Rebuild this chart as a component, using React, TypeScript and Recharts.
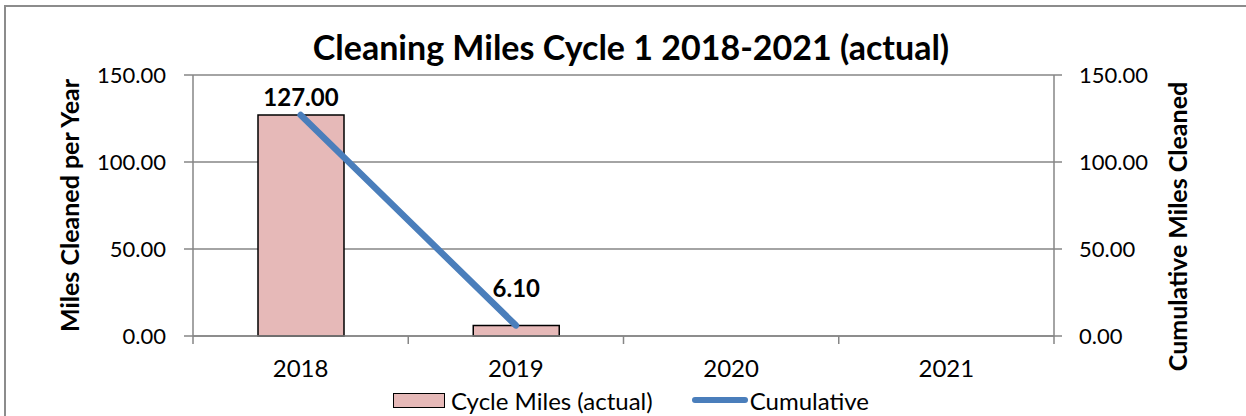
import React from "react";
import {
  ComposedChart,
  Bar,
  Line,
  XAxis,
  YAxis,
  CartesianGrid,
  LabelList,
} from "recharts";

const years = ["2018", "2019", "2020", "2021"];
const cycleMiles = [127, 6.1, null, null];
const cumulativeMiles = [127, 6.1, null, null];
const yTicks = [0, 50, 100, 150];

const data = years.map((year, i) => ({
  year,
  cycle: cycleMiles[i],
  cumulative: cumulativeMiles[i],
}));

const FONT = "Lato, 'Open Sans', sans-serif";
const AXIS_GRAY = "#868686";
const BAR_FILL = "#E6B9B8";
const LINE_BLUE = "#4A7EBB";

const X_TICK_SIZE = 8;
const X_TICK_MARGIN = 16;

function formatMiles(value: number): string {
  return Number(value).toFixed(2);
}

// Excel-style category ticks: marks sit between categories, not under them
function YearTick(props: any) {
  const { x, y, payload, index, visibleTicksCount } = props;
  const half = payload?.offset ?? 0;
  const axisY = y - X_TICK_SIZE - X_TICK_MARGIN;
  const isLast = index === (visibleTicksCount ?? 4) - 1;
  return (
    <g>
      <line
        x1={x - half}
        x2={x - half}
        y1={axisY}
        y2={axisY + X_TICK_SIZE}
        stroke={AXIS_GRAY}
        strokeWidth={1.5}
      />
      {isLast && (
        <line
          x1={x + half}
          x2={x + half}
          y1={axisY}
          y2={axisY + X_TICK_SIZE}
          stroke={AXIS_GRAY}
          strokeWidth={1.5}
        />
      )}
      <text
        x={x}
        y={y}
        dy="0.71em"
        textAnchor="middle"
        fill="#000"
        fontSize={24}
        fontFamily={FONT}
      >
        {payload.value}
      </text>
    </g>
  );
}

function ValueLabel(props: any) {
  const { x, y, width, value, index } = props;
  if (value === null || value === undefined) return null;
  const lift = index === 0 ? 19 : 38;
  return (
    <text
      x={x + width / 2}
      y={y - lift}
      dominantBaseline="central"
      textAnchor="middle"
      fill="#000"
      fontSize={24}
      fontWeight="bold"
      fontFamily={FONT}
    >
      {formatMiles(value)}
    </text>
  );
}

const axisTitleStyle = {
  textAnchor: "middle",
  fontSize: 25,
  fontWeight: "bold",
  fill: "#000",
  fontFamily: FONT,
};

export default function App() {
  return (
    <div
      style={{
        position: "absolute",
        left: 0,
        top: 0,
        width: 1246,
        height: 416,
        overflow: "hidden",
        background: "#fff",
        fontFamily: FONT,
      }}
    >
      <div
        style={{
          position: "absolute",
          left: 4,
          top: 5,
          width: 1400,
          height: 600,
          border: "2px solid #8c8c8c",
        }}
      />
      <div
        style={{
          position: "absolute",
          left: 0,
          top: 27,
          width: 1262,
          height: 40,
          lineHeight: "40px",
          textAlign: "center",
          fontSize: 34,
          fontWeight: "bold",
          color: "#000",
        }}
      >
        Cleaning Miles Cycle 1 2018-2021 (actual)
      </div>

      <div style={{ position: "absolute", left: 0, top: 0 }}>
        <ComposedChart
          width={1246}
          height={416}
          data={data}
          margin={{ top: 75, right: 0, left: 0, bottom: 50 }}
        >
          <CartesianGrid
            yAxisId="left"
            horizontal
            vertical={false}
            stroke={AXIS_GRAY}
            strokeWidth={1.5}
          />
          <XAxis
            dataKey="year"
            height={30}
            interval={0}
            tickSize={X_TICK_SIZE}
            tickMargin={X_TICK_MARGIN}
            tickLine={false}
            axisLine={{ stroke: AXIS_GRAY, strokeWidth: 1.5 }}
            tick={<YearTick />}
          />
          <YAxis
            yAxisId="left"
            domain={[0, 150]}
            ticks={yTicks}
            tickFormatter={formatMiles}
            width={193}
            tickSize={9}
            tickMargin={18}
            stroke={AXIS_GRAY}
            axisLine={{ stroke: AXIS_GRAY, strokeWidth: 1.5 }}
            tickLine={{ stroke: AXIS_GRAY, strokeWidth: 1.5 }}
            tick={{ fill: "#000", fontSize: 22, fontFamily: FONT }}
            label={{
              value: "Miles Cleaned per Year",
              angle: -90,
              position: "insideLeft",
              offset: 70,
              style: axisTitleStyle,
            }}
          />
          <YAxis
            yAxisId="right"
            orientation="right"
            domain={[0, 150]}
            ticks={yTicks}
            tickFormatter={formatMiles}
            width={192}
            tickSize={8}
            tickMargin={17}
            stroke={AXIS_GRAY}
            axisLine={{ stroke: AXIS_GRAY, strokeWidth: 1.5 }}
            tickLine={{ stroke: AXIS_GRAY, strokeWidth: 1.5 }}
            tick={{ fill: "#000", fontSize: 22, fontFamily: FONT, textAnchor: "start" }}
            label={{
              value: "Cumulative Miles Cleaned",
              angle: -90,
              position: "insideRight",
              offset: 68,
              dy: 21,
              style: axisTitleStyle,
            }}
          />
          <Bar
            yAxisId="left"
            dataKey="cycle"
            name="Cycle Miles (actual)"
            fill={BAR_FILL}
            stroke="#000"
            strokeWidth={1.5}
            barSize={86}
            isAnimationActive={false}
          >
            <LabelList dataKey="cycle" content={<ValueLabel />} />
          </Bar>
          <Line
            yAxisId="right"
            dataKey="cumulative"
            name="Cumulative"
            stroke={LINE_BLUE}
            strokeWidth={6.5}
            strokeLinecap="round"
            dot={false}
            activeDot={false}
            isAnimationActive={false}
          />
        </ComposedChart>
      </div>

      <div
        style={{
          position: "absolute",
          left: 393,
          top: 385,
          height: 30,
          display: "flex",
          alignItems: "center",
          fontSize: 24,
          color: "#000",
        }}
      >
        <span
          style={{
            display: "inline-block",
            width: 50,
            height: 13,
            background: BAR_FILL,
            border: "1.5px solid #000",
            marginRight: 6,
          }}
        />
        <span style={{ marginRight: 39 }}>Cycle Miles (actual)</span>
        <span
          style={{
            display: "inline-block",
            width: 56,
            height: 6,
            borderRadius: 3,
            background: LINE_BLUE,
            marginRight: 2,
          }}
        />
        <span>Cumulative</span>
      </div>
    </div>
  );
}
